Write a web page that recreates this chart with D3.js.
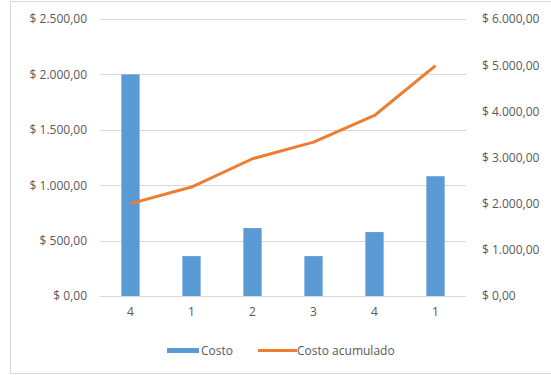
<!DOCTYPE html>
<html>
<head>
<meta charset="utf-8">
<script src="https://cdn.jsdelivr.net/npm/d3@7"></script>
<style>
  body { margin: 0; background: #fff; }
  text { font-family: "Open Sans", "Noto Sans", sans-serif; font-size: 12px; fill: #595959; }
</style>
</head>
<body>
<div id="chart"></div>
<script>
var categorias = ["4", "1", "2", "3", "4", "1"];
var costo = [2000, 360, 613, 360, 577, 1081];
var acumulado = [2000, 2360, 2973, 3333, 3910, 4991];
var ticksIzq = [0, 500, 1000, 1500, 2000, 2500];
var ticksDer = [0, 1000, 2000, 3000, 4000, 5000, 6000];

var W = 551, H = 375;
var margin = {top: 19, right: 85, bottom: 79, left: 100};
var w = W - margin.left - margin.right;
var h = H - margin.top - margin.bottom;

function moneda(v) {
  return "$ " + d3.format(",.2f")(v).replace(/,/g, "#").replace(/\./g, ",").replace(/#/g, ".");
}

var svg = d3.select("#chart").append("svg")
  .attr("width", W).attr("height", H);

// borde del grafico
svg.append("rect")
  .attr("x", 10.5).attr("y", 1.5)
  .attr("width", W).attr("height", 372)
  .attr("fill", "none").attr("stroke", "#d9d9d9");

var g = svg.append("g")
  .attr("transform", "translate(" + margin.left + "," + margin.top + ")");

var x = d3.scaleBand().domain(d3.range(categorias.length)).range([0, w]).paddingInner(0.7).paddingOuter(0.35);
var y = d3.scaleLinear().domain([0, 2500]).range([h, 0]);
var y2 = d3.scaleLinear().domain([0, 6000]).range([h, 0]);

// lineas de cuadricula
g.selectAll(".grid").data(ticksIzq).enter().append("line")
  .attr("x1", 0).attr("x2", w)
  .attr("y1", function(d) { return Math.round(y(d)) + 0.5; })
  .attr("y2", function(d) { return Math.round(y(d)) + 0.5; })
  .attr("stroke", "#d9d9d9");

var yAxis = d3.axisLeft(y).tickValues(ticksIzq).tickFormat(moneda).tickSize(0).tickPadding(13);
g.append("g").call(yAxis).call(function(s) { s.select(".domain").remove(); });

var yAxis2 = d3.axisRight(y2).tickValues(ticksDer).tickFormat(moneda).tickSize(0).tickPadding(16);
g.append("g").attr("transform", "translate(" + w + ",0)").call(yAxis2)
  .call(function(s) { s.select(".domain").remove(); });

var xAxis = d3.axisBottom(x).tickFormat(function(i) { return categorias[i]; }).tickSize(0).tickPadding(11);
g.append("g").attr("transform", "translate(0," + h + ")").call(xAxis)
  .call(function(s) { s.select(".domain").remove(); });

g.selectAll("g.tick text").attr("fill", "#595959").style("font-family", "'Open Sans', sans-serif").style("font-size", "12px");

g.selectAll(".bar").data(costo).enter().append("rect")
  .attr("x", function(d, i) { return x(i); })
  .attr("width", x.bandwidth())
  .attr("y", function(d) { return y(d); })
  .attr("height", function(d) { return h - y(d); })
  .attr("fill", "#5b9bd5");

var linea = d3.line()
  .x(function(d, i) { return x(i) + x.bandwidth() / 2; })
  .y(function(d) { return y2(d); });

g.append("path").datum(acumulado)
  .attr("d", linea)
  .attr("fill", "none")
  .attr("stroke", "#ed7d31")
  .attr("stroke-width", 3)
  .attr("stroke-linejoin", "round");

// leyenda
var ley = svg.append("g");
ley.append("rect").attr("x", 167).attr("y", 348).attr("width", 32).attr("height", 5).attr("fill", "#5b9bd5");
ley.append("text").attr("x", 201).attr("y", 355).text("Costo");
ley.append("line").attr("x1", 258).attr("x2", 297).attr("y1", 350.5).attr("y2", 350.5)
  .attr("stroke", "#ed7d31").attr("stroke-width", 3);
ley.append("text").attr("x", 297).attr("y", 355).text("Costo acumulado");
</script>
</body>
</html>
